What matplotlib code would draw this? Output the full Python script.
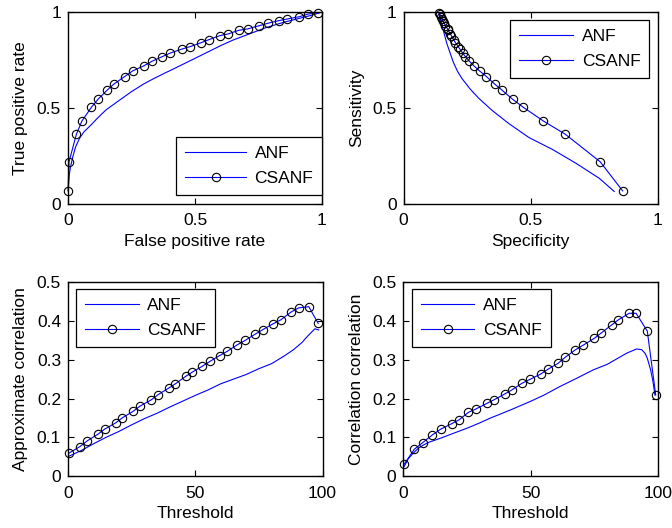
import matplotlib
matplotlib.use("Agg")
import matplotlib.pyplot as plt
from matplotlib.ticker import FixedLocator, FixedFormatter

plt.rcParams['font.family'] = ['Liberation Sans', 'DejaVu Sans']
plt.rcParams['font.size'] = 12

labels = ["ANF", "CSANF"]

# --- ROC (top-left) ---
roc_anf_x = [0, 0.005, 0.010, 0.020, 0.030, 0.045, 0.063, 0.09, 0.115, 0.15, 0.194, 0.25, 0.299,
             0.340, 0.378, 0.414, 0.483, 0.55, 0.60, 0.65, 0.70, 0.782, 0.85, 0.913, 0.96, 0.99]
roc_anf_y = [0.055, 0.15, 0.192, 0.25, 0.296, 0.34, 0.375, 0.41, 0.445, 0.49, 0.532, 0.585, 0.626,
             0.655, 0.680, 0.703, 0.748, 0.792, 0.825, 0.855, 0.88, 0.921, 0.948, 0.969, 0.985,
             0.997]
roc_cs_x = [0, 0.004, 0.033, 0.055, 0.092, 0.118, 0.155, 0.181, 0.223, 0.254, 0.300, 0.331, 0.371,
            0.401, 0.447, 0.482, 0.524, 0.555, 0.598, 0.631, 0.673, 0.707, 0.753, 0.788, 0.829,
            0.863, 0.911, 0.946, 0.986]
roc_cs_y = [0.066, 0.218, 0.362, 0.432, 0.503, 0.545, 0.594, 0.625, 0.664, 0.693, 0.721, 0.744,
            0.768, 0.786, 0.807, 0.821, 0.841, 0.857, 0.878, 0.887, 0.906, 0.913, 0.930, 0.943,
            0.956, 0.965, 0.977, 0.991, 0.998]

# --- Sensitivity vs Specificity (top-right) ---
ss_anf_x = [0.139, 0.146, 0.156, 0.170, 0.185, 0.196, 0.212, 0.229, 0.261, 0.296, 0.348, 0.414,
            0.493, 0.585, 0.677, 0.769, 0.828]
ss_anf_y = [0.998, 0.960, 0.907, 0.838, 0.780, 0.738, 0.692, 0.655, 0.600, 0.550, 0.487, 0.418,
            0.345, 0.283, 0.211, 0.132, 0.063]
ss_cs_x = [0.139, 0.143, 0.147, 0.151, 0.155, 0.160, 0.165, 0.173, 0.176, 0.184, 0.188, 0.197,
           0.204, 0.215, 0.222, 0.233, 0.243, 0.259, 0.276, 0.299, 0.326, 0.358, 0.386, 0.429,
           0.471, 0.549, 0.636, 0.773, 0.861]
ss_cs_y = [0.998, 0.991, 0.977, 0.965, 0.956, 0.943, 0.930, 0.913, 0.906, 0.887, 0.878, 0.857,
           0.841, 0.821, 0.807, 0.786, 0.768, 0.744, 0.721, 0.693, 0.664, 0.625, 0.594, 0.545,
           0.503, 0.432, 0.362, 0.218, 0.066]

# --- Approximate correlation (bottom-left) ---
ac_anf_x = [0, 5, 10, 15, 20, 25, 30, 35, 40, 45, 50, 55, 60, 65, 70, 75, 80, 85, 88.6, 92, 94,
            97, 98.5]
ac_anf_y = [0.05, 0.065, 0.083, 0.10, 0.115, 0.132, 0.148, 0.162, 0.178, 0.193, 0.208, 0.222,
            0.238, 0.25, 0.262, 0.277, 0.29, 0.31, 0.326, 0.345, 0.36, 0.38, 0.377]
ac_cs_x = [0.4, 4.7, 7.6, 11.8, 14.4, 18.7, 21.3, 25.6, 28.2, 32.8, 35.4, 39.6, 42.2, 46.2, 48.8,
           52.7, 55.8, 59.6, 62.6, 66.6, 69.6, 73.5, 76.6, 80.6, 83.6, 87.6, 90.6, 94.6, 98.3]
ac_cs_y = [0.059, 0.076, 0.091, 0.108, 0.121, 0.137, 0.150, 0.167, 0.180, 0.197, 0.210, 0.227,
           0.238, 0.257, 0.268, 0.283, 0.296, 0.311, 0.322, 0.339, 0.350, 0.366, 0.378, 0.393,
           0.403, 0.423, 0.434, 0.437, 0.394]

# --- Correlation correlation (bottom-right) ---
cc_anf_x = [0.3, 2, 3.9, 6, 7.9, 10, 14.4, 20, 24.9, 30, 34, 41.9, 49.7, 55, 61.5, 68, 74.6, 80,
            87.7, 91.6, 93.6, 95.0, 95.8, 97.1, 98, 98.8]
cc_anf_y = [0.024, 0.045, 0.059, 0.072, 0.080, 0.087, 0.097, 0.111, 0.123, 0.137, 0.149, 0.170,
            0.192, 0.208, 0.231, 0.252, 0.274, 0.288, 0.317, 0.328, 0.326, 0.316, 0.304, 0.274,
            0.245, 0.209]
cc_cs_x = [0.3, 4.3, 7.6, 11.4, 14.7, 19.0, 21.9, 25.5, 28.5, 33.0, 35.7, 39.9, 42.6, 46.5, 49.9,
           53.9, 56.9, 60.8, 63.5, 67.4, 70.7, 74.9, 77.5, 81.8, 84.4, 88.7, 91.4, 95.8, 99.1]
cc_cs_y = [0.030, 0.069, 0.086, 0.106, 0.121, 0.135, 0.145, 0.164, 0.173, 0.188, 0.197, 0.212,
           0.222, 0.239, 0.250, 0.263, 0.276, 0.291, 0.306, 0.325, 0.338, 0.355, 0.368, 0.390,
           0.403, 0.420, 0.420, 0.374, 0.209]

unit_ticks = [0, 0.5, 1]
unit_labels = ["0", "0.5", "1"]
thr_ticks = [0, 50, 100]
thr_labels = ["0", "50", "100"]
corr_ticks = [0, 0.1, 0.2, 0.3, 0.4, 0.5]
corr_labels = ["0", "0.1", "0.2", "0.3", "0.4", "0.5"]

fig = plt.figure(figsize=(6.72, 5.28), dpi=100)

W, H = 672.0, 528.0
def rect(l, t, r, b):
    return [l / W, 1 - b / H, (r - l) / W, (b - t) / H]

panels = [
    dict(rect=rect(68, 12.3, 322, 203.5), anf=(roc_anf_x, roc_anf_y), cs=(roc_cs_x, roc_cs_y),
         xlim=(0, 1), ylim=(0, 1), xt=(unit_ticks, unit_labels), yt=(unit_ticks, unit_labels),
         xlabel="False positive rate", ylabel="True positive rate",
         loc="lower right", anchor=(1.0, 0.045)),
    dict(rect=rect(403.5, 12.3, 658, 203.5), anf=(ss_anf_x, ss_anf_y), cs=(ss_cs_x, ss_cs_y),
         xlim=(0, 1), ylim=(0, 1), xt=(unit_ticks, unit_labels), yt=(unit_ticks, unit_labels),
         xlabel="Specificity", ylabel="Sensitivity",
         loc="upper right", anchor=(0.965, 0.96)),
    dict(rect=rect(68, 282.3, 322.5, 476), anf=(ac_anf_x, ac_anf_y), cs=(ac_cs_x, ac_cs_y),
         xlim=(0, 100), ylim=(0, 0.5), xt=(thr_ticks, thr_labels), yt=(corr_ticks, corr_labels),
         xlabel="Threshold", ylabel="Approximate correlation",
         loc="upper left", anchor=(0.032, 0.965)),
    dict(rect=rect(403.3, 282.3, 658, 476), anf=(cc_anf_x, cc_anf_y), cs=(cc_cs_x, cc_cs_y),
         xlim=(0, 100), ylim=(0, 0.5), xt=(thr_ticks, thr_labels), yt=(corr_ticks, corr_labels),
         xlabel="Threshold", ylabel="Correlation correlation",
         loc="upper left", anchor=(0.034, 0.965)),
]

for i, p in enumerate(panels):
    ax = fig.add_axes(p["rect"])
    ax.plot(p["anf"][0], p["anf"][1], color="#0000ff", lw=0.8, label=labels[0])
    ax.plot(p["cs"][0], p["cs"][1], color="#0000ff", lw=0.8, marker="o", ms=6,
            mfc="none", mec="black", mew=0.8, label=labels[1], clip_on=False)
    ax.set_xlim(*p["xlim"])
    ax.set_ylim(*p["ylim"])
    ax.xaxis.set_major_locator(FixedLocator(p["xt"][0]))
    ax.xaxis.set_major_formatter(FixedFormatter(p["xt"][1]))
    ax.yaxis.set_major_locator(FixedLocator(p["yt"][0]))
    ax.yaxis.set_major_formatter(FixedFormatter(p["yt"][1]))
    ax.tick_params(direction="in", top=True, right=True, length=4, width=0.8,
                   labelsize=12.5)
    ax.tick_params(axis="x", pad=7)
    ax.tick_params(axis="y", pad=5)
    for s in ax.spines.values():
        s.set_linewidth(1.0)
    ax.set_xlabel(p["xlabel"], fontsize=12.5, labelpad=4)
    ax.set_ylabel(p["ylabel"], fontsize=12.5, labelpad=6)
    leg = ax.legend(loc=p["loc"], bbox_to_anchor=p["anchor"], borderaxespad=0,
                    fontsize=12.5, fancybox=False, framealpha=1, edgecolor="black",
                    handlelength=3.1 if i else 3.5, handletextpad=0.5, borderpad=0.5,
                    labelspacing=0.6, numpoints=1)
    leg.get_frame().set_linewidth(0.9)
    leg.set_zorder(5)

fig.savefig("out.png", dpi=100)
